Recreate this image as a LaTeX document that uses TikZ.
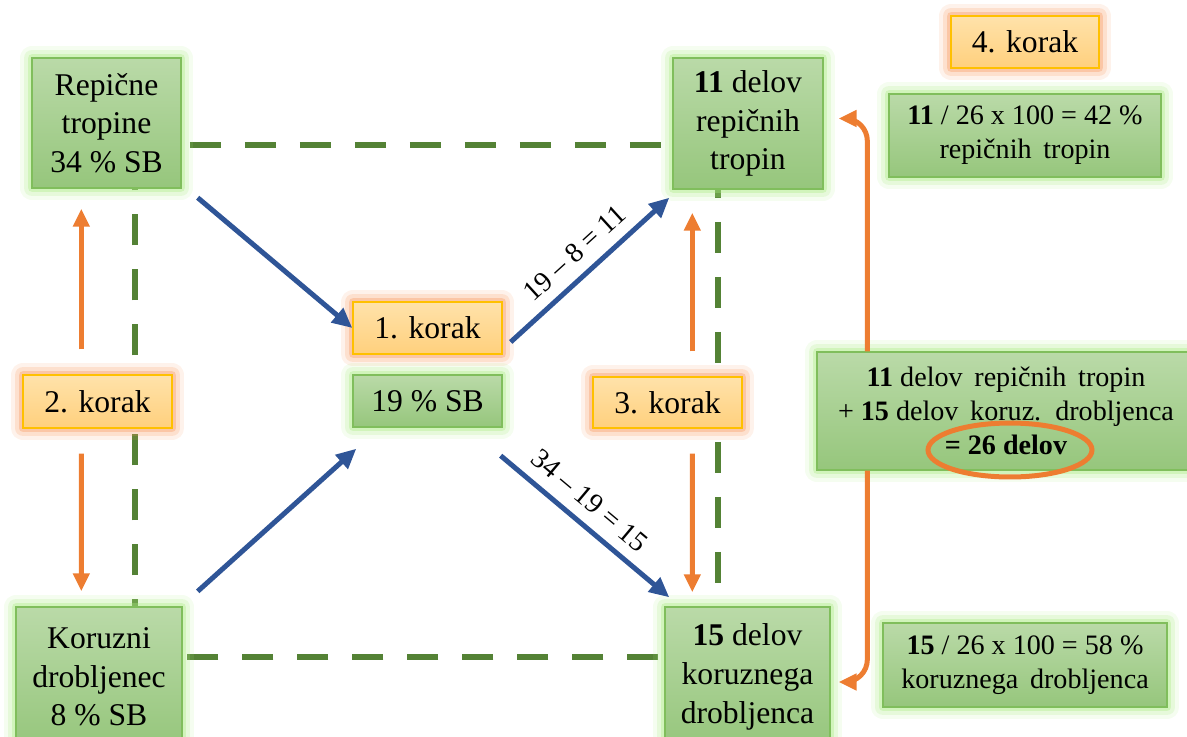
\documentclass[tikz,border=0pt]{standalone}
\usepackage{fontspec}
\setmainfont{Liberation Serif}
\usetikzlibrary{arrows.meta}
\definecolor{boxtop}{RGB}{186,218,168}
\definecolor{boxbot}{RGB}{150,198,124}
\definecolor{boxline}{RGB}{128,190,92}
\definecolor{boxglow}{RGB}{170,235,130}
\definecolor{stoptop}{RGB}{255,226,170}
\definecolor{stopbot}{RGB}{255,208,125}
\definecolor{stopline}{RGB}{255,192,0}
\definecolor{stopglow}{RGB}{248,150,90}
\definecolor{dashgreen}{RGB}{84,130,53}
\definecolor{flowblue}{RGB}{47,85,151}
\definecolor{steporange}{RGB}{237,125,49}
\newcommand{\bigtxt}{\fontsize{18}{22}\selectfont}
\newcommand{\midtxt}{\fontsize{16}{19.5}\selectfont}
\newcommand{\labtxt}{\fontsize{16}{18}\selectfont}

\begin{document}
\begin{tikzpicture}[x=0.02cm,y=-0.02cm]
      \tikzstyle{every node}+=[inner sep=0pt, align=center]
      \tikzstyle{greenglow}=[preaction={draw=boxglow, line width=0.5cm, opacity=0.12, line join=round},
        preaction={draw=boxglow, line width=0.34cm, opacity=0.2, line join=round},
        preaction={draw=boxglow, line width=0.18cm, opacity=0.35, line join=round}]
      \tikzstyle{orangeglow}=[preaction={draw=stopglow, line width=0.5cm, opacity=0.12, line join=round},
        preaction={draw=stopglow, line width=0.34cm, opacity=0.2, line join=round},
        preaction={draw=stopglow, line width=0.18cm, opacity=0.35, line join=round}]
      \tikzstyle{greenbox}=[greenglow, draw=boxline, line width=0.8pt, top color=boxtop, bottom color=boxbot, font=\bigtxt]
      \tikzstyle{korakbox}=[orangeglow, draw=stopline, line width=0.8pt, top color=stoptop, bottom color=stopbot, font=\bigtxt,
        minimum width=2.98cm, minimum height=1.04cm]
      \tikzstyle{mixline}=[draw=dashgreen, line width=0.12cm, dash pattern=on 0.62cm off 0.48cm]
      \tikzstyle{flow}=[draw=flowblue, line width=0.1cm, -{Triangle[length=0.4cm, width=0.36cm]}]
      \tikzstyle{stepline}=[draw=steporange, line width=0.1cm, -{Triangle[length=0.36cm, width=0.32cm]}]
      \tikzstyle{lab}=[font=\labtxt, sloped]
      \useasboundingbox (0,0) rectangle (1187,737);
      \coordinate (mixNW) at (135,145);
      \coordinate (mixNE) at (718,145);
      \coordinate (mixSE) at (718,657);
      \coordinate (mixSW) at (135,657);
      \draw[mixline] (mixNW) -- (mixNE) -- (mixSE) -- (mixSW) -- cycle;
      \node[greenbox, minimum width=2.98cm, minimum height=2.6cm] (A) at (106.5,123) {Repične\\tropine\\34 \% SB};
      \node[greenbox, minimum width=3.0cm, minimum height=2.62cm] (B) at (748,123.5) {\textbf{11} delov\\repičnih\\tropin};
      \node[greenbox, minimum width=3.32cm, minimum height=2.8cm] (C) at (99,677) {Koruzni\\drobljenec\\8 \% SB};
      \node[greenbox, minimum width=3.3cm, minimum height=2.8cm] (D) at (747.5,677) {\textbf{15} delov\\koruznega\\drobljenca};
      \node[korakbox] (K1) at (427.5,328) {1. korak};
      \node[greenbox, minimum width=2.98cm, minimum height=1.04cm] (SB19) at (427.5,401) {19 \% SB};
      \node[korakbox, minimum height=1.06cm] (K2) at (97.5,401.5) {2. korak};
      \node[korakbox, minimum height=1.02cm] (K3) at (667.5,402.5) {3. korak};
      \node[korakbox, minimum width=2.96cm] (K4) at (1025,42) {4. korak};
      \node[greenbox, font=\midtxt, minimum width=5.44cm, minimum height=1.66cm] (P42) at (1025,135.5)
        {\textbf{11} / 26 x 100 = 42 \%\\repičnih\, tropin};
      \node[greenbox, font=\midtxt, minimum width=5.68cm, minimum height=1.68cm] (P58) at (1025,665)
        {\textbf{15} / 26 x 100 = 58 \%\\koruznega\, drobljenca};
      \node[greenbox, font=\midtxt, minimum width=7.56cm, minimum height=2.36cm] (S26) at (1006,411)
        {\textbf{11} delov\, repičnih\, tropin\\+ \textbf{15} delov\, koruz.\, drobljenca\\\textbf{= 26 delov}};
      \draw[steporange, line width=0.1cm] ([shift={(4,39)}]S26.center) ellipse [x radius=1.64cm, y radius=0.54cm];
      \draw[flow] ([shift={(16,9)}]A.south east) -- (K1.west);
      \draw[flow] ([shift={(8,14)}]K1.east) -- node[lab, above=0.22cm] {19 -- 8 = 11} ([shift={(-3,8)}]B.south west);
      \draw[flow] ([shift={(15,-15)}]C.north east) -- ([shift={(4,21)}]SB19.south west);
      \draw[flow] ([shift={(-2,28)}]SB19.south east) -- node[lab, pos=0.44, above=0.22cm] {34 -- 19 = 15} ([shift={(5,-9)}]D.north west);
      \draw[stepline] ([shift={(59,-25)}]K2.north west) -- ([shift={(50,20)}]A.south west);
      \draw[stepline] ([shift={(59,25)}]K2.south west) -- ([shift={(66,-15)}]C.north west);
      \draw[stepline] ([shift={(100,-25)}]K3.north west) -- ([shift={(20,23)}]B.south west);
      \draw[stepline] ([shift={(100,25)}]K3.south west) -- ([shift={(28,-14)}]D.north west);
      \draw[stepline, rounded corners=0.45cm] ([shift={(51,0)}]S26.north west) |- ([shift={(15,-5)}]B.east);
      \draw[stepline, rounded corners=0.45cm] ([shift={(51,0)}]S26.south west) |- ([shift={(8,5)}]D.east);
    \end{tikzpicture}
\end{document}
